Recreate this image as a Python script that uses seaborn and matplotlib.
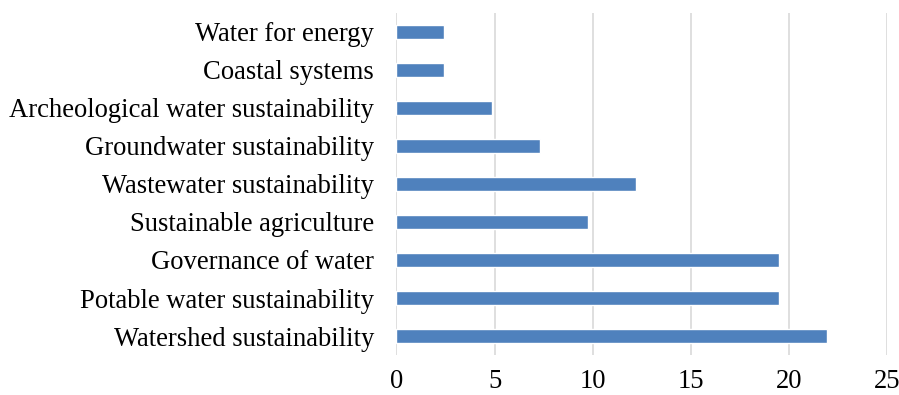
import matplotlib
matplotlib.use("Agg")
import matplotlib.pyplot as plt
import seaborn as sns
import pandas as pd

# categories, top to bottom as drawn
topics = [
    "Water for energy",
    "Coastal systems",
    "Archeological water sustainability",
    "Groundwater sustainability",
    "Wastewater sustainability",
    "Sustainable agriculture",
    "Governance of water",
    "Potable water sustainability",
    "Watershed sustainability",
]
shares = [2.44, 2.44, 4.88, 7.32, 12.2, 9.76, 19.51, 19.51, 21.95]

df = pd.DataFrame({"topic": topics, "share": shares})

sns.set_style("white")
plt.rcParams["font.family"] = ["Liberation Serif", "DejaVu Serif"]

fig = plt.figure(figsize=(8.99, 3.95), dpi=100)
ax = fig.add_axes([0.441, 0.101, 0.5457, 0.867])

sns.barplot(data=df, x="share", y="topic", color="#4F81BD", width=0.37,
            saturation=1, ax=ax)

ax.set_xlim(0, 25)
ax.set_xticks([0, 5, 10, 15, 20, 25])
ax.xaxis.grid(True, color="#d9d9d9", linewidth=1.2)
ax.set_axisbelow(True)
for s in ax.spines.values():
    s.set_visible(False)
ax.tick_params(axis="both", length=0, labelsize=19.2, colors="black")
ax.tick_params(axis="y", pad=16)
ax.tick_params(axis="x", pad=10)
ax.set_xlabel("")
ax.set_ylabel("")

fig.savefig("out.png", dpi=100)
